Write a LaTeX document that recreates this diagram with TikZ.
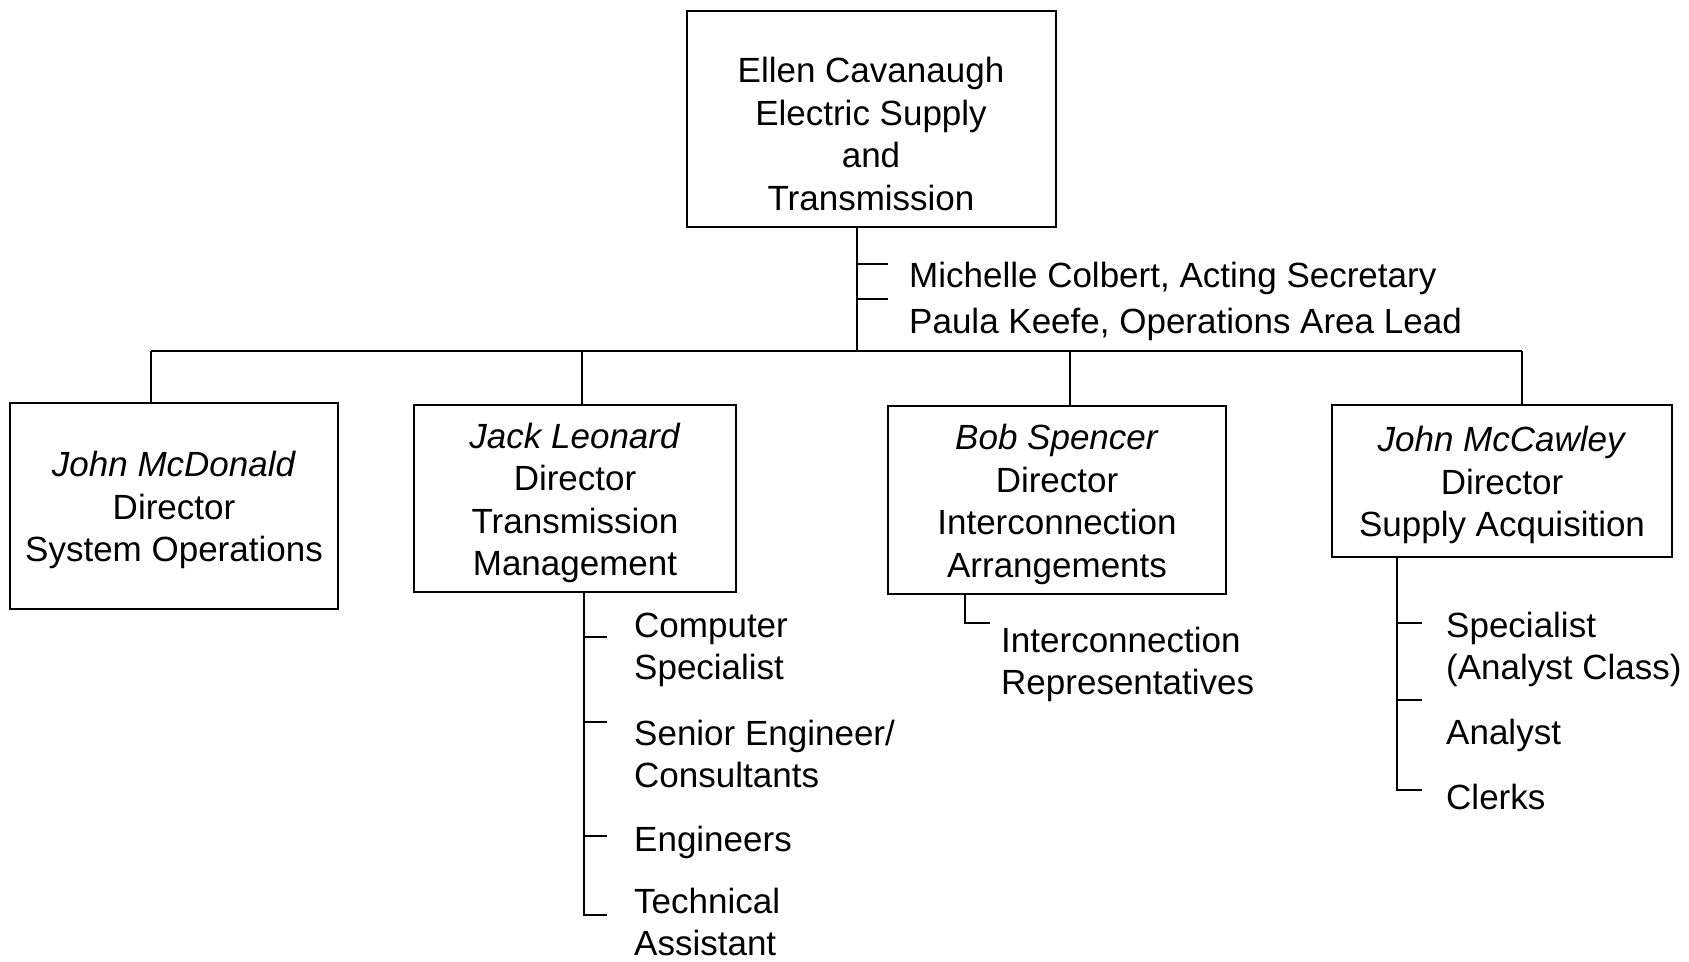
\documentclass[tikz,border=0pt]{standalone}
\usepackage{fontspec}
\setmainfont{Liberation Sans}
\newcommand{\topstrut}{\rule{0pt}{17pt}}
\begin{document}
\begin{tikzpicture}[x=0.5pt,y=-0.5pt,line width=1.2pt,
  every node/.style={font=\fontsize{17.5pt}{21.25pt}\selectfont, inner sep=0pt},
  box/.style={draw, align=center, inner sep=0pt},
  lbl/.style={anchor=base west},
  ctr/.style={anchor=base}]
\useasboundingbox (0,0) rectangle (1689,962);

% boxes
\node[box, minimum width=184.5pt, minimum height=108pt] (top) at (871.5,119) {};
\node[ctr] (toptext) at (871,83) {\begin{tabular}[t]{@{}c@{}}Ellen Cavanaugh\\Electric Supply\\and\\Transmission\end{tabular}};

\node[box, minimum width=164pt, minimum height=103pt] (b1) at (174,506) {\topstrut\textit{John McDonald}\\Director\\System Operations};
\node[box, minimum width=161pt, minimum height=93.5pt] (b2) at (575,498.5) {\topstrut\textit{Jack Leonard}\\Director\\Transmission\\Management};
\node[box, minimum width=169pt, minimum height=94pt] (b3) at (1057,500) {\topstrut\textit{Bob Spencer}\\Director\\Interconnection\\Arrangements};
\node[box, minimum width=170pt, minimum height=76pt] (b4) at (1502,481) {\topstrut\textit{John McCawley}\\Director\\Supply Acquisition};

% staff under top
\node[lbl] (sec1) at (908,288) {Michelle Colbert, Acting Secretary};
\node[lbl] (sec2) at (908,333) {Paula Keefe, Operations Area Lead};

% main connectors
\coordinate (hub) at (857,351);
\coordinate (d1) at (151,351);
\coordinate (d2) at (582,351);
\coordinate (d3) at (1070,351);
\coordinate (d4) at (1522,351);
\draw (hub |- top.south) -- (hub);
\draw (d1) -- (d4);
\draw (d1) -- (d1 |- b1.north);
\draw (d2) -- (d2 |- b2.north);
\draw (d3) -- (d3 |- b3.north);
\draw (d4) -- (d4 |- b4.north);
\coordinate (s1) at (857,264);
\coordinate (s2) at (857,299);
\draw (s1) -- ++(31,0);
\draw (s2) -- ++(31,0);

% Jack Leonard staff
\node[lbl] (jl1) at (633,637) {\begin{tabular}[t]{@{}l@{}}Computer\\Specialist\end{tabular}};
\node[lbl] (jl2) at (633,745) {\begin{tabular}[t]{@{}l@{}}Senior Engineer/\\Consultants\end{tabular}};
\node[lbl] (jl3) at (633,851) {Engineers};
\node[lbl] (jl4) at (633,913) {\begin{tabular}[t]{@{}l@{}}Technical\\Assistant\end{tabular}};
\coordinate (jc) at (584,915);
\coordinate (j1) at (584,637);
\coordinate (j2) at (584,722);
\coordinate (j3) at (584,836);
\draw (jc |- b2.south) -- (jc) -- ++(23,0);
\draw (j1) -- ++(23,0);
\draw (j2) -- ++(23,0);
\draw (j3) -- ++(23,0);

% Bob Spencer staff
\node[lbl] (bl) at (1000,652) {\begin{tabular}[t]{@{}l@{}}Interconnection\\Representatives\end{tabular}};
\coordinate (bc) at (965,623);
\draw (bc |- b3.south) -- (bc) -- ++(25,0);

% John McCawley staff
\node[lbl] (ml1) at (1445,637) {\begin{tabular}[t]{@{}l@{}}Specialist\\(Analyst Class)\end{tabular}};
\node[lbl] (ml2) at (1445,744) {Analyst};
\node[lbl] (ml3) at (1445,809) {Clerks};
\coordinate (mc) at (1397,790);
\coordinate (m1) at (1397,623);
\coordinate (m2) at (1397,700);
\draw (mc |- b4.south) -- (mc) -- ++(25,0);
\draw (m1) -- ++(25,0);
\draw (m2) -- ++(25,0);
\end{tikzpicture}
\end{document}
